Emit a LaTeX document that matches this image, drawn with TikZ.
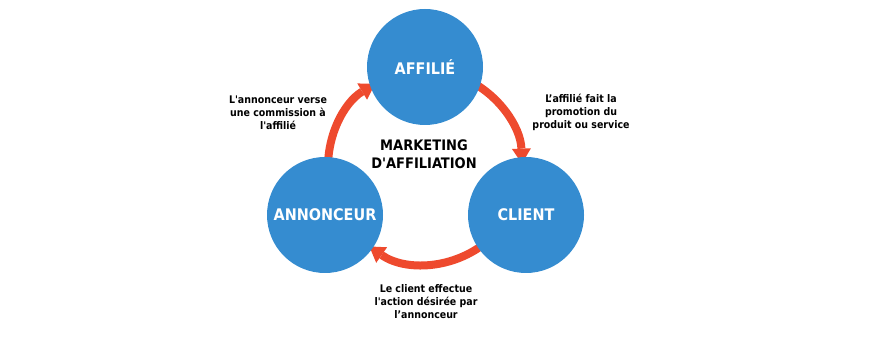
\documentclass[tikz,border=0pt]{standalone}
\usepackage{fontspec}
\setmainfont{DejaVu Sans Condensed}[Ligatures=TeXOff]
\usetikzlibrary{arrows.meta,positioning,calc}
\definecolor{actorblue}{HTML}{358CD0}
\definecolor{flowred}{HTML}{EE4A2E}

\begin{document}
\begin{tikzpicture}[x=1pt, y=1pt, >={Triangle[width=19pt, length=15pt, line width=0pt]},
  actor/.style={circle, fill=actorblue, minimum size=116pt, inner sep=0pt, text=white,
    font=\bfseries\fontsize{16}{18}\selectfont},
  flow/.style={->, line width=8pt, draw=flowred},
  note/.style={align=center, font=\bfseries\fontsize{10.5}{13}\selectfont}]
  \useasboundingbox (0,0) rectangle (870,337);
  \coordinate (hub) at (425,170);

  % flows between the three parties
  \draw[flow] ($(hub)+(185:97)$) arc[start angle=185, end angle=121, radius=97];
  \draw[flow] ($(hub)+(65:97)$) arc[start angle=65, end angle=2, radius=97];
  \draw[flow] ($(hub)+(-50:97)$) arc[start angle=-50, end angle=-125, radius=97];

  \node (affilie) [actor] at (425,270) {AFFILIÉ};
  \node (annonceur) [actor] at (325,122) {ANNONCEUR};
  \node (client) [actor] at (526,122) {CLIENT};

  \node (title) [align=center, font=\bfseries\fontsize{14.5}{18}\selectfont] at (424,183) {MARKETING\\D'AFFILIATION};
  \node (commission) [note] at (278,224) {L'annonceur verse\\une commission à\\l'affilié};
  \node (promotion) [note] at (581,225) {L’affilié fait la\\promotion du\\produit ou service};
  \node (action) [note] at (426,35) {Le client effectue\\l'action désirée par\\l’annonceur};
\end{tikzpicture}
\end{document}
